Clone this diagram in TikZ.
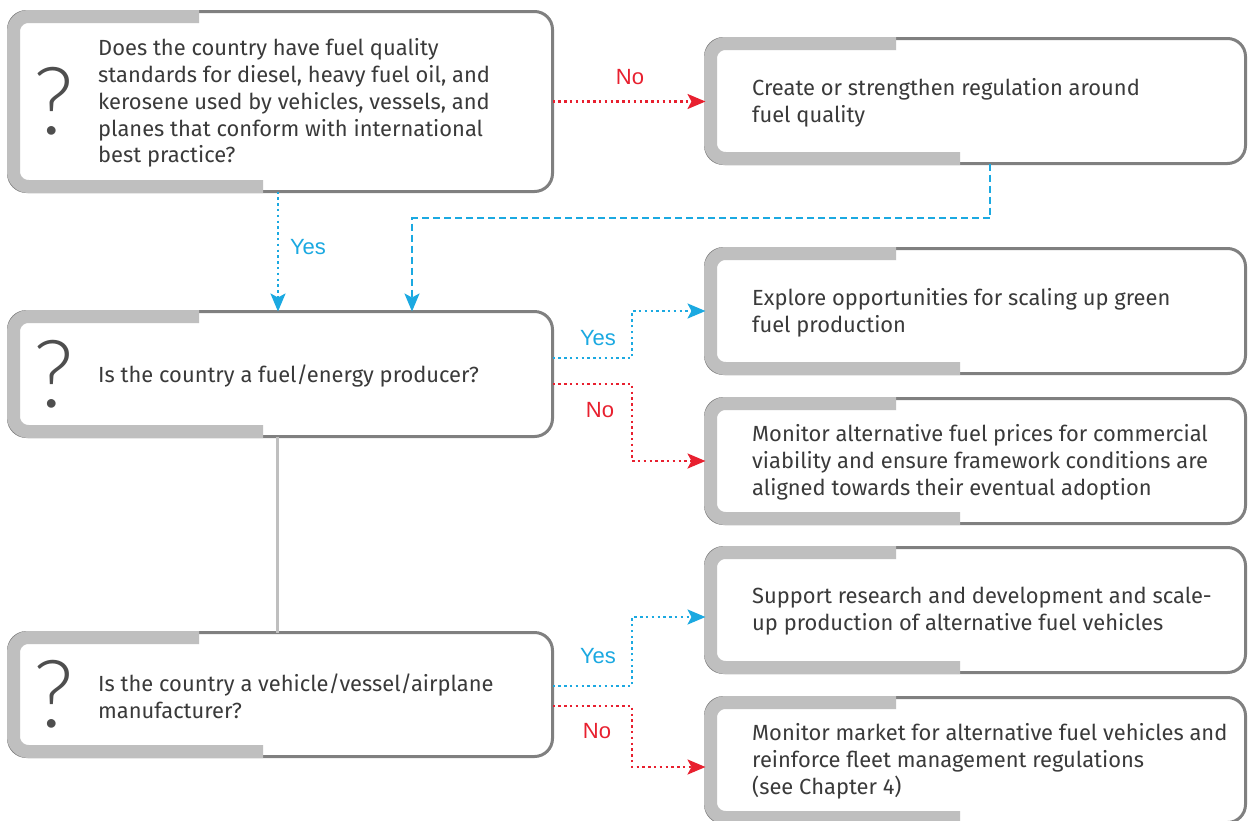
\documentclass[tikz,border=0pt]{standalone}
\usepackage{fontspec}
\setmainfont{Fira Sans}
\newfontfamily\lblfont{Liberation Sans}
\newfontfamily\qmfont{Lato Light}
\usetikzlibrary{arrows.meta,calc}
\definecolor{boxline}{HTML}{808080}
\definecolor{bandgray}{HTML}{BFBFBF}
\definecolor{txt}{HTML}{3A3A3A}
\definecolor{yesblue}{HTML}{1BA9E1}
\definecolor{nored}{HTML}{E8202F}
\tikzset{
  box/.style={draw=boxline, line width=3pt, rounded corners=18pt, fill=white,
    anchor=north west, inner sep=0pt, outer sep=0pt},
  band/.style={draw=bandgray, line width=13pt, rounded corners=15pt},
  qmark/.style={font=\qmfont\fontsize{94}{94}\selectfont, text=txt!90, inner sep=0pt},
  qtext/.style={align=left, inner sep=0pt, text=txt, anchor=west,
    font=\fontsize{21.9}{26.8}\selectfont},
  yeslbl/.style={font=\lblfont\fontsize{22}{22}\selectfont, text=yesblue, inner sep=0pt},
  nolbl/.style={font=\lblfont\fontsize{22}{22}\selectfont, text=nored, inner sep=0pt},
  tip/.style={-{Stealth[length=18pt,width=15pt,inset=4pt]}},
  yesline/.style={tip, draw=yesblue, line width=2.4pt, dash pattern=on 2.4pt off 3.4pt},
  noline/.style={tip, draw=nored, line width=2.4pt, dash pattern=on 2.4pt off 3.4pt},
  dashline/.style={tip, draw=yesblue, line width=1.8pt, dash pattern=on 7pt off 4pt},
  link/.style={draw=bandgray, line width=3pt}
}
\newcommand\bandon[1]{\draw[band] ([shift={(190.5pt,-5pt)}]#1.north west) -- ([shift={(5pt,-5pt)}]#1.north west) -- ([shift={(5pt,5pt)}]#1.south west) -- ([shift={(254.5pt,5pt)}]#1.south west);}
\begin{document}
\begin{tikzpicture}[x=1pt,y=-1pt]
\useasboundingbox (0,0) rectangle (1248,820);
\fill[white] (0,0) rectangle (1248,820);
% question boxes
\node[box, minimum width=544pt, minimum height=180pt] (q1) at (8.5,11.5) {};
\node[box, minimum width=544pt, minimum height=125pt] (q2) at (8.5,311.5) {};
\node[box, minimum width=544pt, minimum height=124pt] (q3) at (8.5,632.5) {};
% answer boxes
\node[box, minimum width=540pt, minimum height=125pt] (a1) at (705.5,38.5) {};
\node[box, minimum width=540pt, minimum height=125pt] (a2) at (705.5,248.5) {};
\node[box, minimum width=540pt, minimum height=125pt] (a3) at (705.5,398.5) {};
\node[box, minimum width=540pt, minimum height=125pt] (a4) at (705.5,547.5) {};
\node[box, minimum width=540pt, minimum height=125pt] (a5) at (705.5,697.5) {};
\foreach \b in {q1,q2,q3,a1,a2,a3,a4,a5} {\bandon{\b}}
% question marks
\node[qmark] (q1m) at ([xshift=45.5pt]q1.west) {?};
\node[qmark] (q2m) at ([xshift=45.5pt]q2.west) {?};
\node[qmark] (q3m) at ([xshift=45.5pt]q3.west) {?};
% texts
\node[qtext] (q1t) at ([shift={(89.5pt,-1.5pt)}]q1.west) {Does the country have fuel quality\\standards for diesel, heavy fuel oil, and\\kerosene used by vehicles, vessels, and\\planes that conform with international\\best practice?};
\node[qtext] (q2t) at ([shift={(89.5pt,-1.5pt)}]q2.west) {Is the country a fuel/energy producer?};
\node[qtext] (q3t) at ([shift={(89.5pt,-1.5pt)}]q3.west) {Is the country a vehicle/vessel/airplane\\manufacturer?};
\node[qtext] (a1t) at ([shift={(46.5pt,-1.5pt)}]a1.west) {Create or strengthen regulation around\\fuel quality};
\node[qtext] (a2t) at ([shift={(46.5pt,-1.5pt)}]a2.west) {Explore opportunities for scaling up green\\fuel production};
\node[qtext] (a3t) at ([shift={(46.5pt,-1.5pt)}]a3.west) {Monitor alternative fuel prices for commercial\\viability and ensure framework conditions are\\aligned towards their eventual adoption};
\node[qtext] (a4t) at ([shift={(46.5pt,-1.5pt)}]a4.west) {Support research and development and scale-\\up production of alternative fuel vehicles};
\node[qtext] (a5t) at ([shift={(46.5pt,-1.5pt)}]a5.west) {Monitor market for alternative fuel vehicles and\\reinforce fleet management regulations\\(see Chapter 4)};
% connectors
\draw[noline] (q1.east) -- (q1.east -| a1.west);
\draw[yesline] ([xshift=269.5pt]q1.south west) -- ([xshift=269.5pt]q2.north west);
\coordinate (d1) at (412,218);
\draw[dashline] ([xshift=284.5pt]a1.south west) |- (d1) -- ([xshift=403.5pt]q2.north west);
\draw[yesline] ([yshift=16pt]q2.east) -- ++(79.5,0) |- (a2.west);
\draw[noline] ([yshift=-10pt]q2.east) -- ++(79.5,0) |- (a3.west);
\draw[link] ([xshift=268.5pt]q2.south west) -- ([xshift=268.5pt]q3.north west);
\draw[yesline] ([yshift=8.5pt]q3.east) -- ++(79.5,0) |- ([yshift=-7pt]a4.west);
\draw[noline] ([yshift=-11.5pt]q3.east) -- ++(79.5,0) |- ([yshift=-7pt]a5.west);
% labels
\node[nolbl] (l1) at (630,77) {No};
\node[yeslbl] (l2) at (308,247) {Yes};
\node[yeslbl] (l3) at (598,338) {Yes};
\node[nolbl] (l4) at (600,410) {No};
\node[yeslbl] (l5) at (598,656) {Yes};
\node[nolbl] (l6) at (597,731) {No};
\end{tikzpicture}
\end{document}
